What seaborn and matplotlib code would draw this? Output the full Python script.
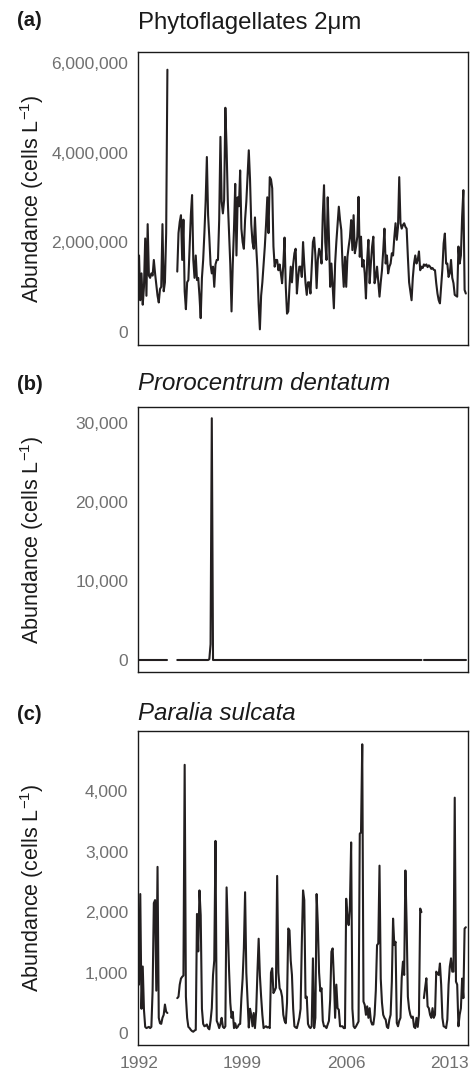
import numpy as np
import pandas as pd
import matplotlib
matplotlib.use("Agg")
import matplotlib.pyplot as plt
import seaborn as sns
from matplotlib.ticker import FuncFormatter, FixedLocator

nan = np.nan
START_YEAR = 1992  # monthly samples starting January 1992

# (a) Phytoflagellates 2 um, abundance in millions of cells per litre (one row per year)
phyto_millions = [
    1.7, 0.7, 1.3, 0.6, 1.0, 2.08, 0.8, 2.4, 1.25, 1.2, 1.3, 1.25,          # 1992
    1.6, 1.3, 1.05, 0.8, 0.65, 0.95, 1.0, 2.4, 0.9, 1.1, 2.2, 5.85,         # 1993
    nan, nan, nan, nan, nan, nan, nan, 1.34, 2.2, 2.45, 2.6, 1.6,           # 1994
    2.5, 0.9, 0.5, 1.1, 1.15, 1.9, 2.6, 3.05, 1.6, 1.2, 1.7, 1.15,          # 1995
    1.2, 0.8, 0.3, 1.2, 1.6, 2.2, 2.9, 3.9, 2.6, 2.1, 1.5, 1.3,             # 1996
    1.45, 1.0, 1.5, 1.6, 1.6, 2.5, 4.35, 2.9, 2.64, 2.94, 5.0, 4.1,         # 1997
    2.9, 2.2, 1.5, 0.45, 1.5, 2.3, 3.3, 1.7, 3.0, 2.8, 3.6, 2.3,            # 1998
    2.0, 1.85, 2.5, 2.9, 3.5, 4.05, 3.4, 2.4, 2.0, 1.85, 2.55, 1.9,         # 1999
    1.4, 0.6, 0.05, 0.8, 1.1, 1.5, 1.9, 2.4, 3.0, 2.2, 3.45, 3.4,           # 2000
    3.2, 1.9, 1.45, 1.6, 1.6, 1.37, 1.5, 1.3, 1.08, 1.5, 2.1, 1.0,          # 2001
    0.4, 0.45, 1.0, 1.45, 1.1, 1.5, 1.75, 1.85, 0.85, 1.2, 1.45, 1.45,      # 2002
    1.22, 2.0, 1.5, 1.08, 0.82, 1.1, 1.1, 0.85, 1.45, 2.0, 2.1, 1.7,        # 2003
    0.97, 1.6, 1.85, 1.75, 1.52, 2.6, 3.27, 2.0, 1.6, 3.0, 2.1, 1.0,        # 2004
    1.52, 1.0, 0.52, 1.52, 2.0, 2.4, 2.79, 2.49, 2.27, 1.5, 1.0, 1.67,      # 2005
    1.0, 1.67, 1.9, 2.1, 2.49, 1.82, 2.6, 1.75, 1.9, 2.12, 3.01, 1.67,      # 2006
    2.12, 1.45, 1.6, 1.3, 0.74, 1.6, 2.05, 1.08, 1.52, 1.9, 2.12, 1.08,     # 2007
    1.22, 1.45, 1.1, 0.78, 1.1, 1.37, 1.8, 2.3, 1.52, 1.7, 1.3, 1.45,       # 2008
    1.52, 1.75, 1.7, 2.1, 2.42, 2.05, 2.34, 3.45, 2.42, 2.3, 2.38, 2.42,    # 2009
    2.34, 2.3, 1.67, 1.1, 0.9, 0.7, 1.2, 1.52, 1.7, 1.52, 1.6, 1.79,        # 2010
    1.37, 1.45, 1.42, 1.5, 1.47, 1.5, 1.44, 1.48, 1.45, 1.4, 1.42, 1.38,    # 2011
    1.37, 1.08, 0.85, 0.7, 0.63, 1.0, 1.4, 1.97, 2.19, 1.52, 1.52, 1.22,    # 2012
    1.3, 1.6, 1.2, 1.08, 0.82, 0.8, 0.78, 1.9, 1.52, 1.7, 2.57, 3.16,       # 2013
    0.93, 0.85,                                                             # 2014
]

# (b) Prorocentrum dentatum, cells per litre
prorocentrum = [
    0, 0, 0, 0, 0, 0, 0, 0, 0, 0, 0, 0,                   # 1992
    0, 0, 0, 0, 0, 0, 0, 0, 0, 0, 0, 0,                   # 1993
    nan, nan, nan, nan, nan, nan, nan, 0, 0, 0, 0, 0,     # 1994
    0, 0, 0, 0, 0, 0, 0, 0, 0, 0, 0, 0,                   # 1995
    0, 0, 0, 0, 0, 0, 0, 0, 0, 100, 2000, 30600,          # 1996
    0, 0, 0, 0, 0, 0, 0, 0, 0, 0, 0, 0,                   # 1997
    0, 0, 0, 0, 0, 0, 0, 0, 0, 0, 0, 0,                   # 1998
    0, 0, 0, 0, 0, 0, 0, 0, 0, 0, 0, 0,                   # 1999
    0, 0, 0, 0, 0, 0, 0, 0, 0, 0, 0, 0,                   # 2000
    0, 0, 0, 0, 0, 0, 0, 0, 0, 0, 0, 0,                   # 2001
    0, 0, 0, 0, 0, 0, 0, 0, 0, 0, 0, 0,                   # 2002
    0, 0, 0, 0, 0, 0, 0, 0, 0, 0, 0, 0,                   # 2003
    0, 0, 0, 0, 0, 0, 0, 0, 0, 0, 0, 0,                   # 2004
    0, 0, 0, 0, 0, 0, 0, 0, 0, 0, 0, 0,                   # 2005
    0, 0, 0, 0, 0, 0, 0, 0, 0, 0, 0, 0,                   # 2006
    0, 0, 0, 0, 0, 0, 0, 0, 0, 0, 0, 0,                   # 2007
    0, 0, 0, 0, 0, 0, 0, 0, 0, 0, 0, 0,                   # 2008
    0, 0, 0, 0, 0, 0, 0, 0, 0, 0, 0, 0,                   # 2009
    0, 0, 0, 0, 0, 0, 0, 0, 0, 0, 0, 0,                   # 2010
    0, 0, nan, 0, 0, 0, 0, 0, 0, 0, 0, 0,                 # 2011
    0, 0, 0, 0, 0, 0, 0, 0, 0, 0, 0, 0,                   # 2012
    0, 0, 0, 0, 0, 0, 0, 0, 0, 0, 0, 0,                   # 2013
    0, 0,                                                 # 2014
]

# (c) Paralia sulcata, cells per litre
paralia = [
    800, 2300, 400, 1100, 380, 100, 80, 90, 100, 80, 100, 700,          # 1992
    2150, 2200, 700, 2750, 250, 160, 150, 250, 300, 470, 350, 330,      # 1993
    nan, nan, nan, nan, nan, nan, nan, 576, 600, 800, 900, 930,         # 1994
    950, 4440, 600, 250, 100, 80, 50, 30, 20, 40, 50, 1970,             # 1995
    1350, 2360, 1950, 400, 150, 110, 120, 140, 80, 60, 200, 410,        # 1996
    960, 1200, 3180, 200, 150, 80, 150, 250, 100, 80, 110, 2410,        # 1997
    1700, 1040, 500, 250, 350, 80, 160, 80, 100, 140, 150, 576,         # 1998
    900, 1400, 2330, 1000, 550, 90, 400, 300, 110, 330, 80, 360,        # 1999
    1000, 1560, 950, 600, 300, 80, 100, 110, 90, 100, 80, 1000,         # 2000
    1070, 660, 700, 750, 2600, 1000, 740, 700, 600, 300, 200, 160,      # 2001
    500, 1730, 1700, 1200, 960, 400, 110, 90, 80, 160, 250, 400,        # 2002
    1500, 2360, 2200, 580, 600, 150, 100, 80, 110, 1235, 80, 250,       # 2003
    2300, 1800, 1000, 690, 740, 200, 110, 110, 80, 140, 200, 550,       # 2004
    1345, 1400, 900, 250, 800, 410, 384, 110, 110, 110, 80, 80,         # 2005
    2222, 1900, 1785, 2110, 3155, 400, 110, 80, 110, 150, 190, 3300,    # 2006
    3320, 4780, 520, 465, 300, 440, 250, 410, 200, 140, 140, 300,       # 2007
    700, 1454, 1480, 2770, 900, 500, 300, 250, 220, 100, 80, 220,       # 2008
    300, 850, 1893, 1454, 1510, 165, 110, 200, 250, 910, 1180, 960,     # 2009
    2690, 1800, 600, 400, 300, 250, 270, 100, 80, 250, 100, 300,        # 2010
    2060, 2000, nan, 576, 750, 905, 440, 410, 300, 250, 410, 250,       # 2011
    300, 1015, 980, 960, 1150, 800, 250, 110, 100, 80, 220, 800,        # 2012
    1100, 1235, 1015, 1015, 3896, 850, 800, 110, 300, 410, 900, 576,    # 2013
    1728, 1750,                                                         # 2014
]

year_ticks = [1992, 1999, 2006, 2013]
phyto_ticks = [0, 2000000, 4000000, 6000000]
proro_ticks = [0, 10000, 20000, 30000]
paralia_ticks = [0, 1000, 2000, 3000, 4000]

LINE = "#231f20"
GRAY = "#707070"
W, H = 475, 1072

sns.set_style("white")
plt.rcParams["font.family"] = ["Liberation Sans", "DejaVu Sans"]
plt.rcParams["mathtext.fontset"] = "custom"
plt.rcParams["mathtext.rm"] = "Liberation Sans"
plt.rcParams["mathtext.it"] = "Liberation Sans:italic"


def frame(values, scale=1.0):
    v = np.asarray(values, dtype=float) * scale
    t = START_YEAR + np.arange(len(v)) / 12.0
    seg = np.cumsum(np.isnan(v))
    return pd.DataFrame({"year": t, "value": v, "seg": seg}).dropna()


fig = plt.figure(figsize=(W / 100, H / 100), dpi=100)

panels = [
    dict(df=frame(phyto_millions, 1e6), ticks=phyto_ticks, ylim=(-0.30e6, 6.246e6),
         top=52, bottom=345, letter="(a)", title="Phytoflagellates 2μm", italic=False,
         letter_y=20, title_y=23),
    dict(df=frame(prorocentrum), ticks=proro_ticks, ylim=(-1519, 32025),
         top=407, bottom=672, letter="(b)", title="Prorocentrum dentatum", italic=True,
         letter_y=385, title_y=383),
    dict(df=frame(paralia), ticks=paralia_ticks, ylim=(-200, 5000),
         top=731, bottom=1045, letter="(c)", title="Paralia sulcata", italic=True,
         letter_y=715, title_y=713),
]

LEFT, RIGHT = 138, 468
for k, p in enumerate(panels):
    ax = fig.add_axes([LEFT / W, 1 - p["bottom"] / H, (RIGHT - LEFT) / W,
                       (p["bottom"] - p["top"]) / H])
    sns.lineplot(data=p["df"], x="year", y="value", units="seg", estimator=None,
                 color=LINE, lw=1.5, ax=ax, legend=False)
    ax.set_xlim(1991.93, 2014.23)
    ax.set_ylim(*p["ylim"])
    ax.yaxis.set_major_locator(FixedLocator(p["ticks"]))
    ax.yaxis.set_major_formatter(FuncFormatter(lambda v, pos: f"{v:,.0f}"))
    ax.xaxis.set_major_locator(FixedLocator(year_ticks))
    ax.xaxis.set_major_formatter(FuncFormatter(lambda v, pos: f"{v:.0f}"))
    ax.tick_params(axis="y", length=0, labelsize=12.5, labelcolor=GRAY, pad=7)
    ax.tick_params(axis="x", length=0, labelsize=12.5, labelcolor=GRAY, pad=8,
                   labelbottom=(k == 2))
    ax.set_xlabel("")
    ax.set_ylabel("")
    ax.grid(False)
    for s in ax.spines.values():
        s.set_visible(True)
        s.set_color("#1a1a1a")
        s.set_linewidth(1.0)
    mid = (p["top"] + p["bottom"]) / 2
    fig.text(32 / W, 1 - mid / H, r"Abundance (cells L$^{-1}$)", rotation=90,
             ha="center", va="center", fontsize=15.5, color="#1a1a1a")
    fig.text(17 / W, 1 - p["letter_y"] / H, p["letter"], ha="left", va="center",
             fontsize=14.5, fontweight="bold", color="#1a1a1a")
    fig.text(LEFT / W, 1 - p["title_y"] / H, p["title"], ha="left", va="center",
             fontsize=17.3, style="italic" if p["italic"] else "normal", color="#1a1a1a")

fig.savefig("out.png", dpi=100)
